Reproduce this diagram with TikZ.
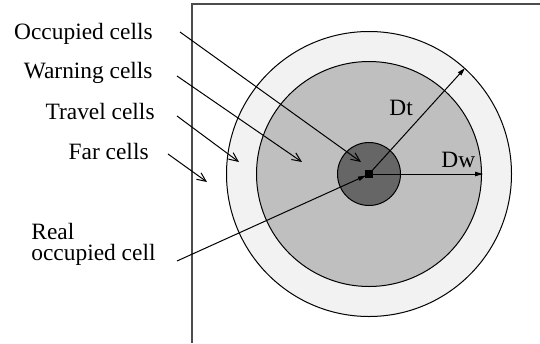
\documentclass[tikz,border=0pt]{standalone}
\usepackage{fontspec}
\setmainfont{Liberation Serif}
\usetikzlibrary{arrows.meta}
\begin{document}
\begin{tikzpicture}[x=0.5pt,y=-0.5pt,
  lbl/.style={inner sep=0pt,font=\fontsize{11.7}{10.5}\selectfont},
  ring/.style={draw=black,line width=0.5pt},
  pointer/.style={line width=0.5pt,-{Straight Barb[length=4.5pt,width=4pt,line width=0.5pt]}},
  measure/.style={line width=0.5pt,-{Triangle[length=4pt,width=2.2pt]}},
  frameline/.style={draw=black!70,line width=0.8pt}]
  \useasboundingbox (0,0) rectangle (540,343);
  % zones around the occupied cell
  \coordinate (c) at (369,174);
  \fill[ring,fill=black!5] (c) circle[radius=142.5*0.5pt];
  \fill[ring,fill=black!25] (c) circle[radius=112.5*0.5pt];
  \fill[ring,fill=black!60] (c) circle[radius=31.5*0.5pt];
  \fill[black] (365,170) rectangle (373,178);
  % map border
  \draw[frameline] (192,343) -- (192,4) -- (540,4);
  % labels
  \node[lbl,anchor=base east] (occ) at (153,39) {Occupied cells};
  \node[lbl,anchor=base east] (warn) at (153,78) {Warning cells};
  \node[lbl,anchor=base east] (trav) at (155,119) {Travel cells};
  \node[lbl,anchor=base east] (far) at (149,159) {Far cells};
  \node[lbl,anchor=base west,align=left] (real) at (31,260.5) {Real\\occupied cell};
  \node[lbl,anchor=base west] (dt) at (389,115) {Dt};
  \node[lbl,anchor=base west] (dw) at (441,167) {Dw};
  % pointer ends
  \coordinate (occT) at (180,32);   \coordinate (occH) at (361,162);
  \coordinate (warnT) at (177,76);  \coordinate (warnH) at (302,162);
  \coordinate (travT) at (177,116); \coordinate (travH) at (239,162);
  \coordinate (farT) at (168,154);  \coordinate (farH) at (207,182);
  \coordinate (realT) at (177,261); \coordinate (realH) at (366,175.5);
  \coordinate (dtH) at (465,68);
  \coordinate (dwH) at (483,174);
  \draw[pointer] (occT) -- (occH);
  \draw[pointer] (warnT) -- (warnH);
  \draw[pointer] (travT) -- (travH);
  \draw[pointer] (farT) -- (farH);
  \draw[measure] (realT) -- (realH);
  \draw[measure] (c) -- (dtH);
  \draw[measure] (c) -- (dwH);
\end{tikzpicture}
\end{document}
